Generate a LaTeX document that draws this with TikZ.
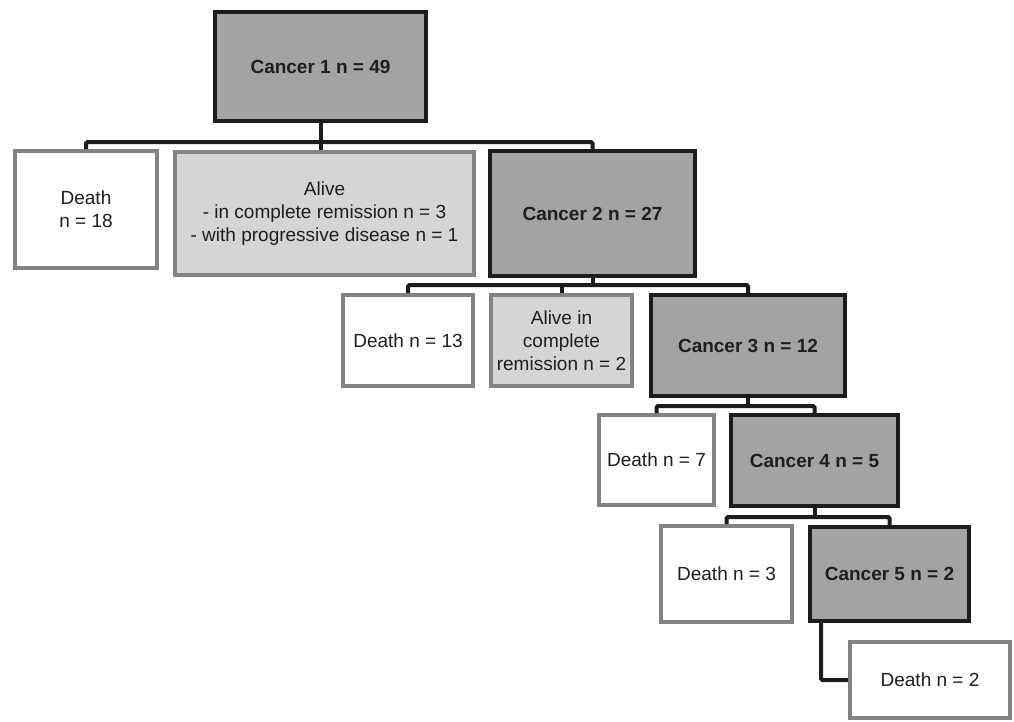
\documentclass[tikz,border=0pt]{standalone}
\usepackage{fontspec}
\setmainfont{Liberation Sans}
\definecolor{darkfill}{HTML}{A2A3A5}
\definecolor{lightfill}{HTML}{D4D5D7}
\definecolor{blackline}{HTML}{1C1C1C}
\definecolor{grayline}{HTML}{838383}
\definecolor{txt}{HTML}{1E1E1E}
\tikzset{
  basebox/.style={rectangle, line width=4pt, inner sep=0pt, align=center, text=txt,
    font=\fontsize{19}{23}\selectfont},
  cancerbox/.style={basebox, draw=blackline, fill=darkfill, font=\fontsize{19}{23}\selectfont\bfseries},
  alivebox/.style={basebox, draw=grayline, fill=lightfill},
  deathbox/.style={basebox, draw=grayline, fill=white},
  conn/.style={draw=blackline, line width=4pt, rounded corners=1.5pt}
}
\begin{document}
\begin{tikzpicture}[x=1pt,y=-1pt]
\useasboundingbox (0,0) rectangle (1014,721);
% level 1
\node[cancerbox, minimum width=211pt, minimum height=109pt] (c1) at (320.5,66.5) {Cancer 1 n = 49};
\node[deathbox, minimum width=142pt, minimum height=117pt] (d1) at (86,209.5) {Death\\n = 18};
\node[alivebox, minimum width=299pt, minimum height=123pt] (a1) at (324.5,213.5) {Alive\\- in complete remission n = 3\\- with progressive disease n = 1};
\node[cancerbox, minimum width=205pt, minimum height=125pt] (c2) at (592.5,213.5) {Cancer 2 n = 27};
% level 2
\node[deathbox, minimum width=130pt, minimum height=91pt] (d2) at (408,340.5) {Death n = 13};
\node[alivebox, minimum width=141pt, minimum height=91pt] (a2) at (561.5,340.5) {Alive in\\complete\\remission n = 2};
\node[cancerbox, minimum width=194pt, minimum height=101pt] (c3) at (748,345.5) {Cancer 3 n = 12};
% level 3
\node[deathbox, minimum width=115pt, minimum height=90pt] (d3) at (656.5,460) {Death n = 7};
\node[cancerbox, minimum width=167pt, minimum height=91pt] (c4) at (814.5,460.5) {Cancer 4 n = 5};
% level 4
\node[deathbox, minimum width=131pt, minimum height=96pt] (d4) at (726.5,574) {Death n = 3};
\node[cancerbox, minimum width=159pt, minimum height=94pt] (c5) at (889.5,574) {Cancer 5 n = 2};
% level 5
\node[deathbox, minimum width=160pt, minimum height=76pt] (d5) at (930,680) {Death n = 2};
% bar coordinates
\coordinate (b1) at (320.5,142);
\coordinate (b2) at (592.5,285);
\coordinate (b3) at (748,406);
\coordinate (b4) at (814.5,517);
% connectors
\draw[conn] (c1.south) -- (b1);
\draw[conn] (d1.north) |- (b1) -| (c2.north);
\draw[conn] (b1) -- (b1 |- a1.north);
\draw[conn] (c2.south) -- (b2);
\draw[conn] (d2.north) |- (b2) -| (c3.north);
\draw[conn] (a2.north) -- (a2.north |- b2);
\draw[conn] (c3.south) -- (b3);
\draw[conn] (d3.north) |- (b3) -| (c4.north);
\draw[conn] (c4.south) -- (b4);
\draw[conn] (d4.north) |- (b4) -| (c5.north);
\draw[conn] ([xshift=13pt]c5.south west) |- (d5.west);
\end{tikzpicture}
\end{document}
